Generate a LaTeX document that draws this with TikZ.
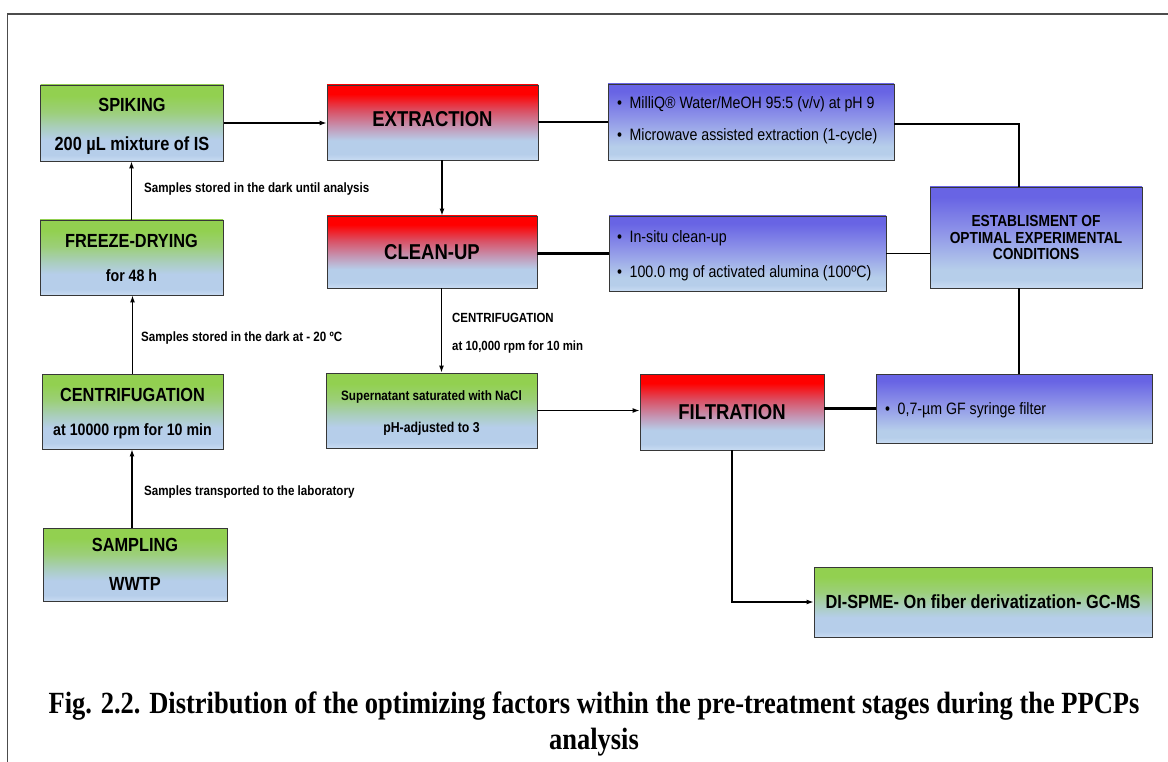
\documentclass[tikz,border=0pt]{standalone}
\usepackage{fontspec}
\setmainfont{Liberation Sans}[FakeStretch=0.86]
\newfontfamily\capfont{Liberation Serif}[FakeStretch=0.86]
\usetikzlibrary{arrows.meta}
\definecolor{grA}{RGB}{146,208,80}
\definecolor{grM}{RGB}{156,207,122}
\definecolor{grN}{RGB}{170,206,190}
\definecolor{lbA}{RGB}{182,206,234}
\definecolor{lbB}{RGB}{200,219,242}
\definecolor{rdA}{RGB}{255,0,0}
\definecolor{rdM}{RGB}{218,80,100}
\definecolor{rdN}{RGB}{196,150,180}
\definecolor{puA}{RGB}{104,100,228}
\definecolor{puM}{RGB}{140,145,232}
\definecolor{edgec}{RGB}{55,55,55}
\pgfdeclareverticalshading{grshade}{100bp}{color(0bp)=(lbB); color(25bp)=(lbB); color(29bp)=(lbA); color(39bp)=(lbA); color(47bp)=(grN); color(57bp)=(grM); color(68bp)=(grA); color(100bp)=(grA)}
\pgfdeclareverticalshading{rdshade}{100bp}{color(0bp)=(lbB); color(25bp)=(lbB); color(29bp)=(lbA); color(38bp)=(lbA); color(47bp)=(rdN); color(58bp)=(rdM); color(69bp)=(rdA); color(100bp)=(rdA)}
\pgfdeclareverticalshading{pushade}{100bp}{color(0bp)=(lbB); color(25bp)=(lbB); color(29bp)=(lbA); color(34bp)=(lbA); color(54bp)=(puM); color(70bp)=(puA); color(100bp)=(puA)}
\newcommand\setfs[1]{\fontsize{#1}{#1}\selectfont}
\begin{document}
\begin{tikzpicture}[x=1pt,y=-1pt,
  box/.style={draw=edgec,line width=0.9pt,inner sep=0pt},
  gbox/.style={box,shading=grshade},
  rbox/.style={box,shading=rdshade},
  pbox/.style={box,shading=pushade},
  conn/.style={line width=1.1pt,draw=black},
  heavy/.style={line width=2.6pt,draw=black},
  arr/.style={conn,-{Latex[length=7pt,width=5pt]}},
  txt/.style={inner sep=0pt,anchor=base},
  ltxt/.style={inner sep=0pt,anchor=base west},
  ttl/.style={txt,font=\setfs{19}\bfseries},
  big/.style={txt,font=\setfs{21.5}\bfseries},
  lbl/.style={ltxt,font=\setfs{13.5}\bfseries},
  opt/.style={ltxt,font=\setfs{16.5}},
  est/.style={txt,font=\setfs{16}\bfseries},
  captxt/.style={txt,font=\capfont\setfs{30.8}\bfseries}]
\useasboundingbox (0,0) rectangle (1168,762);
\fill[white] (0,0) rectangle (1168,762);
\draw[line width=1.3pt,black!70] (7.5,762) -- (7.5,14) -- (1168,14);

% boxes
\node[gbox,minimum width=183pt,minimum height=76pt] (spik) at (132,123) {};
\node[rbox,minimum width=211pt,minimum height=75pt] (extr) at (432.5,122.5) {};
\node[rbox,minimum width=210pt,minimum height=72pt] (clean) at (432,252) {};
\node[gbox,minimum width=183pt,minimum height=75pt] (freeze) at (131.5,257.5) {};
\node[gbox,minimum width=181pt,minimum height=75pt] (centr) at (132.5,411.5) {};
\node[gbox,minimum width=184pt,minimum height=73pt] (samp) at (135,564.5) {};
\node[gbox,minimum width=211pt,minimum height=75pt] (sup) at (431.5,410.5) {};
\node[rbox,minimum width=184pt,minimum height=76pt] (filtr) at (732,412) {};
\node[pbox,minimum width=276pt,minimum height=69pt] (filtopt) at (1014,408.5) {};
\node[gbox,minimum width=338pt,minimum height=70pt] (dispme) at (983,602) {};
\node[pbox,minimum width=286pt,minimum height=76pt] (extopt) at (751,122) {};
\node[pbox,minimum width=277pt,minimum height=75pt] (cleanopt) at (747.5,253.5) {};
\node[pbox,minimum width=212pt,minimum height=101pt] (estab) at (1036,237.5) {};

% box texts
\node[ttl] (spikA) at (132,111.8) {SPIKING};
\node[ttl] (spikB) at (132,150.8) {200 µL mixture of IS};
\node[big] (extrA) at (432.5,126.7) {EXTRACTION};
\node[big] (cleanA) at (432,259.7) {CLEAN-UP};
\node[ttl] (freezeA) at (131.5,247.8) {FREEZE-DRYING};
\node[txt,font=\setfs{16.5}\bfseries] (freezeB) at (131.5,281.9) {for 48 h};
\node[ttl] (centrA) at (132.5,401.2) {CENTRIFUGATION};
\node[txt,font=\setfs{16.5}\bfseries] (centrB) at (132.5,435.9) {at 10000 rpm for 10 min};
\node[ttl] (sampA) at (135,551.8) {SAMPLING};
\node[ttl] (sampB) at (135,590) {WWTP};
\node[txt,font=\setfs{13.6}\bfseries] (supA) at (431.5,400.9) {Supernatant saturated with NaCl};
\node[txt,font=\setfs{14.3}\bfseries] (supB) at (431.5,432.1) {pH-adjusted to 3};
\node[big] (filtrA) at (732,419.7) {FILTRATION};
\node[ttl] (dispmeA) at (983,608.8) {DI-SPME- On fiber derivatization- GC-MS};
\node[est] (estA) at (1036,226.7) {ESTABLISMENT OF};
\node[est] (estB) at (1036,243.7) {OPTIMAL EXPERIMENTAL};
\node[est] (estC) at (1036,259.7) {CONDITIONS};
\node[opt] (eo1) at (617,108.9) {•\hspace{7.5pt}MilliQ® Water/MeOH 95:5 (v/v) at pH 9};
\node[opt] (eo2) at (617,140.9) {•\hspace{7.5pt}Microwave assisted extraction (1-cycle)};
\node[opt] (co1) at (617,242.9) {•\hspace{7.5pt}In-situ clean-up};
\node[opt] (co2) at (617,277.9) {•\hspace{7.5pt}100.0 mg of activated alumina (100ºC)};
\node[opt] (fo1) at (885,414.9) {•\hspace{7.5pt}0,7-µm GF syringe filter};

% connector labels
\node[lbl] (l1) at (144,192.8) {Samples stored in the dark until analysis};
\node[lbl] (l2) at (141,341.8) {Samples stored in the dark at - 20 ºC};
\node[lbl] (l3) at (144,495.8) {Samples transported to the laboratory};
\node[ltxt,font=\setfs{13.3}\bfseries] (l4) at (452,322.8) {CENTRIFUGATION};
\node[ltxt,font=\setfs{13.3}\bfseries] (l5) at (452,350.8) {at 10,000 rpm for 10 min};

% connectors
\coordinate (c1) at ([xshift=9.5pt]extr.south);
\coordinate (c2) at ([xshift=9.5pt]clean.south);
\coordinate (c3) at ([yshift=-2pt]extopt.east);
\coordinate (c4) at ([xshift=-17pt]estab.north);
\coordinate (c5) at ([xshift=-17pt]estab.south);
\coordinate (c6) at ([xshift=-3pt]samp.north);
\draw[arr] (spik.east) -- (spik.east -| extr.west);
\draw[arr] (c1) -- (c1 |- clean.north);
\draw[arr] (c2) -- (c2 |- sup.north);
\draw[heavy] (extr.east |- extopt.west) -- (extopt.west);
\draw[conn] (c3) -| (c4);
\draw[heavy] (clean.east |- cleanopt.west) -- (cleanopt.west);
\draw[conn] (cleanopt.east) -- (cleanopt.east -| estab.west);
\draw[conn] (c5) -- (c5 |- filtopt.north);
\draw[heavy] (filtr.east |- filtopt.west) -- (filtopt.west);
\draw[arr] (sup.east) -- (sup.east -| filtr.west);
\draw[arr] (filtr.south) |- (dispme.west);
\draw[arr] (freeze.north) -- (freeze.north |- spik.south);
\draw[arr] (centr.north) -- (centr.north |- freeze.south);
\draw[arr] (c6) -- (c6 |- centr.south);

% caption
\node[captxt] (capA) at (594,713) {Fig. 2.2. Distribution of the optimizing factors within the pre-treatment stages during the PPCPs};
\node[captxt] (capB) at (594,749) {analysis};
\end{tikzpicture}
\end{document}
